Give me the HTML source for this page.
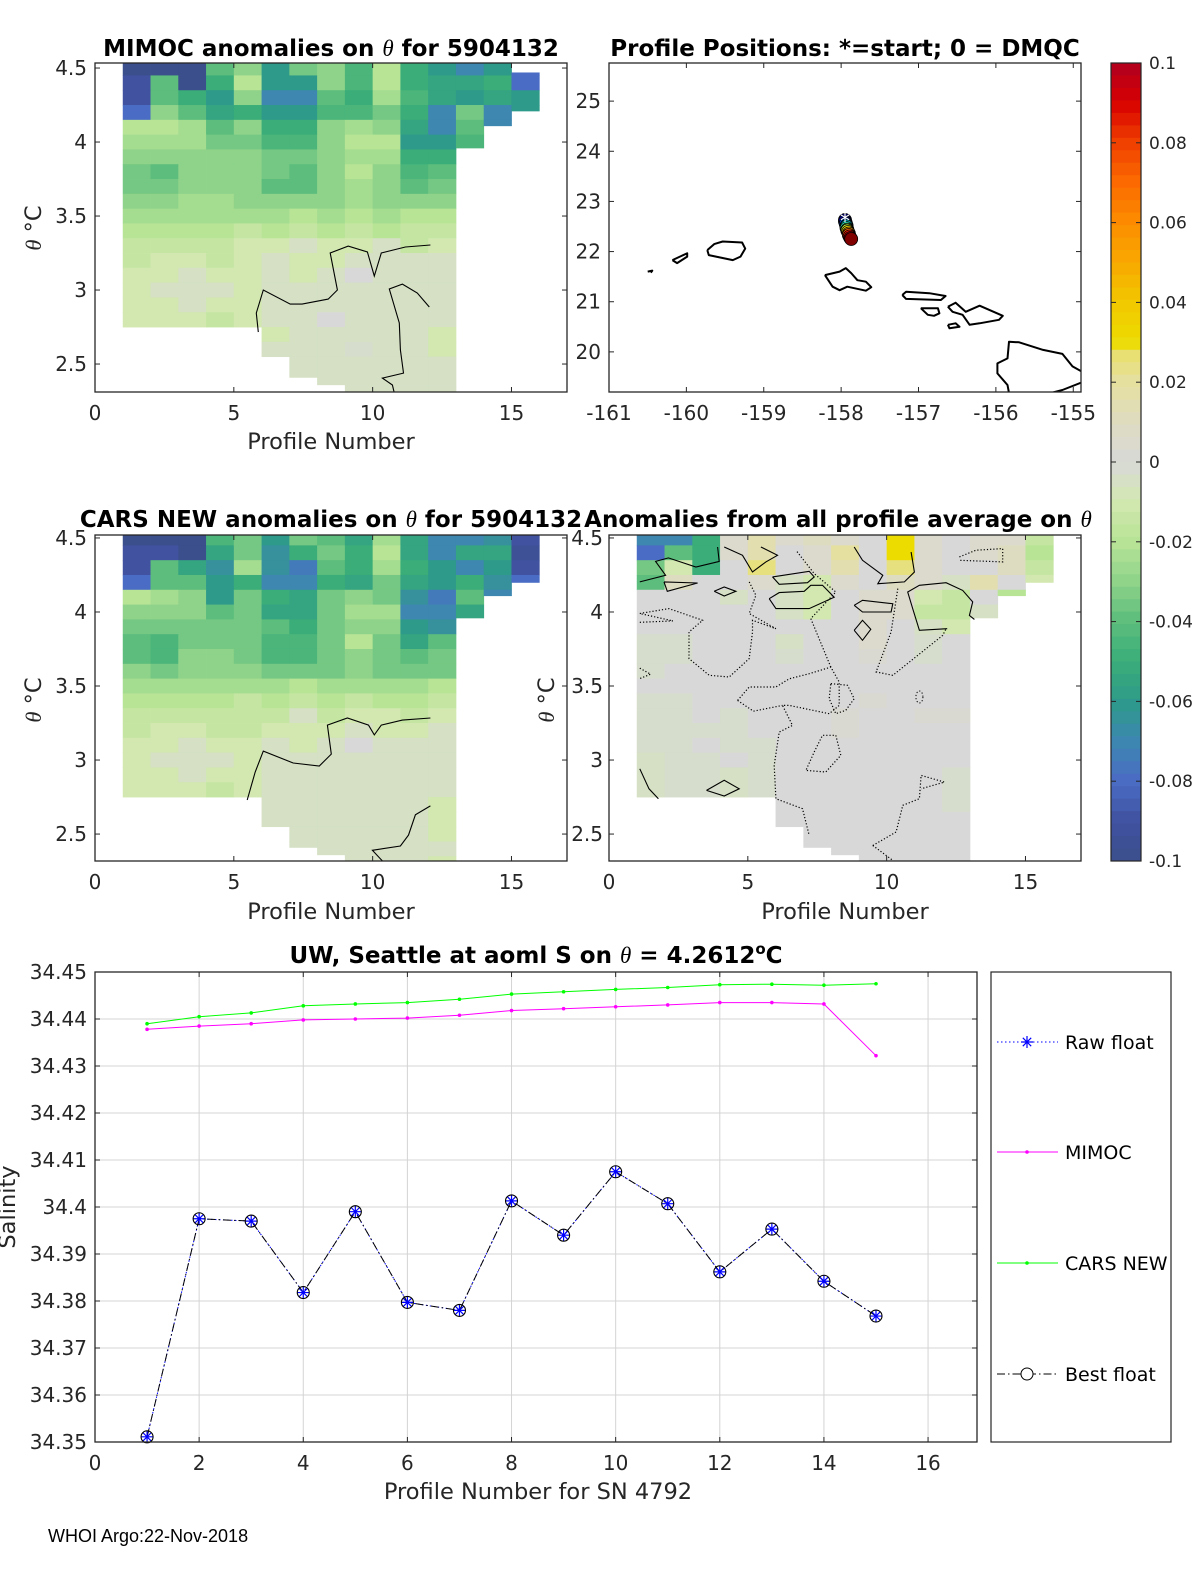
<!DOCTYPE html>
<html><head><meta charset="utf-8">
<style>
html,body{margin:0;padding:0;background:#fff;width:1200px;height:1575px;overflow:hidden;}
svg{display:block;font-family:"DejaVu Sans","Liberation Sans",sans-serif;}
.tk{font-size:20px;fill:#262626;}
.lab{font-size:22.5px;fill:#262626;}
.ttl{font-size:23px;font-weight:bold;fill:#000;}
</style></head>
<body>
<svg id="fig" xmlns="http://www.w3.org/2000/svg" width="1200" height="1575" viewBox="0 0 1200 1575">
<rect x="0" y="0" width="1200" height="1575" fill="#fff"/>
<text class="ttl" x="331" y="56" text-anchor="middle">MIMOC anomalies on <tspan font-style="italic" font-family="Liberation Serif" font-weight="normal">θ</tspan>  for 5904132</text>
<text class="ttl" x="845" y="56" text-anchor="middle">Profile Positions: *=start; 0 = DMQC</text>
<text class="ttl" x="331" y="527" text-anchor="middle">CARS NEW anomalies on <tspan font-style="italic" font-family="Liberation Serif" font-weight="normal">θ</tspan> for 5904132</text>
<text class="ttl" x="838" y="527" text-anchor="middle">Anomalies from all profile average on <tspan font-style="italic" font-family="Liberation Serif" font-weight="normal">θ</tspan></text>
<text class="ttl" x="536" y="963" text-anchor="middle">UW, Seattle at aoml S on <tspan font-style="italic" font-family="Liberation Serif" font-weight="normal">θ</tspan> = 4.2612<tspan baseline-shift="super" font-size="15">o</tspan>C</text>
<text class="lab" x="331" y="449" text-anchor="middle">Profile Number</text>
<text class="lab" x="331" y="919" text-anchor="middle">Profile Number</text>
<text class="lab" x="845" y="919" text-anchor="middle">Profile Number</text>
<text class="lab" x="538" y="1499" text-anchor="middle">Profile Number for SN 4792</text>
<text class="lab" transform="translate(41,228) rotate(-90)" text-anchor="middle"><tspan font-style="italic" font-family="Liberation Serif">θ</tspan> °C</text>
<text class="lab" transform="translate(41,700) rotate(-90)" text-anchor="middle"><tspan font-style="italic" font-family="Liberation Serif">θ</tspan> °C</text>
<text class="lab" transform="translate(554,700) rotate(-90)" text-anchor="middle"><tspan font-style="italic" font-family="Liberation Serif">θ</tspan> °C</text>
<text class="lab" transform="translate(15,1207) rotate(-90)" text-anchor="middle">Salinity</text>
<text x="48" y="1542" font-size="18" fill="#000" font-family="Liberation Sans, sans-serif">WHOI Argo:22-Nov-2018</text>
</svg>
<script>
// ---------- DATA ----------
const profileCols = [1,2,3,4,5,6,7,8,9,10,11,12,13,14,15];
const rowTops = [4.55,4.45,4.35,4.25,4.15,4.05,3.95,3.85,3.75,3.65,3.55,3.45,3.35,3.25,3.15,3.05,2.95,2.85,2.75,2.65,2.55,2.45,2.35];
const colTopTheta = [4.6,4.6,4.6,4.6,4.6,4.6,4.6,4.6,4.6,4.6,4.6,4.6,4.6,4.6,4.47];
const colBottomTheta = [2.75,2.75,2.75,2.75,2.75,2.55,2.41,2.36,2.2,2.2,2.2,2.2,3.96,4.11,4.21];
const colTopThetaCars = [4.6,4.6,4.6,4.6,4.6,4.6,4.6,4.6,4.6,4.6,4.6,4.6,4.6,4.6,4.6];
const colBottomThetaCars = [2.75,2.75,2.75,2.75,2.75,2.55,2.41,2.36,2.2,2.2,2.2,2.2,3.96,4.11,4.2];
// anomalies in hundredths
const mimocVals = [
[-10,-10,-10,-4,-3,-6,-3.5,-3,-4.5,-2,-5,-6,-7,-6,-8],
[-9,-4,-10,-5,-2,-6,-6,-3,-4.5,-2,-5,-5.5,-5.5,-5,-8],
[-9,-4,-5,-6,-3,-7,-7,-4,-5,-2.5,-4.5,-5.5,-6,-5.5,-6],
[-8,-3,-4,-5.5,-5,-6,-6,-4.5,-4.5,-3.5,-5,-7,-3.5,-7,-6],
[-2,-2,-2.5,-4,-3,-5,-5,-3,-2.5,-3,-5.5,-7,-4,-7,null],
[-2.5,-2.5,-2.5,-3.5,-3.5,-4.5,-4.5,-3,-2,-2,-6,-6,-4.5,null,null],
[-3,-3,-3,-3,-3,-3.5,-3.5,-3,-2.5,-2.5,-5,-5,-3.5,null,null],
[-3.5,-4,-3,-3,-3,-3.5,-4,-3,-2,-3,-4.5,-4,null,null,null],
[-3.5,-3.5,-3,-3,-3,-4,-4,-3,-2.5,-3,-4,-3.5,null,null,null],
[-3,-3,-2.5,-2.5,-3,-3,-3,-3,-2.5,-3,-3,-3,null,null,null],
[-2.5,-2.5,-2.5,-2.5,-2.5,-2.5,-2,-2.5,-2,-2.5,-2,-2,null,null,null],
[-2,-2,-2,-2,-1.5,-2,-1.5,-2,-1.5,-2,-1.5,-1.5,null,null,null],
[-1.5,-1.5,-1.5,-1.5,-1,-1,-0.5,-1,-1,-0.5,-1.5,-1,null,null,null],
[-1.5,-1,-1,-1.5,-1,-0.5,-1,-1,-0.5,-0.5,-0.5,-0.5,null,null,null],
[-1,-1,-0.5,-1,-1,-0.5,-1,-0.5,0,-0.5,-0.5,-0.5,null,null,null],
[-1,-0.5,-0.5,-0.5,-1,-0.5,-0.5,-0.5,-0.5,-0.5,-0.5,-0.5,null,null,null],
[-1,-1,-0.5,-1,-1,-0.5,-0.5,-0.5,-0.5,-0.5,-0.5,-0.5,null,null,null],
[-1,-1,-1,-1.5,-1,-0.5,-0.5,0,-0.5,-0.5,-0.5,-0.5,null,null,null],
[null,null,null,null,null,-1,-0.5,-0.5,-0.5,-0.5,-0.5,-1,null,null,null],
[null,null,null,null,null,-0.5,-0.5,-0.5,-0.3,-0.5,-0.5,-1,null,null,null],
[null,null,null,null,null,null,-0.5,-0.5,-0.5,-0.5,-0.5,-0.5,null,null,null],
[null,null,null,null,null,null,-0.5,-0.5,-0.5,-0.5,-0.5,-0.5,null,null,null],
[null,null,null,null,null,null,null,null,-0.5,-0.5,-0.5,-0.5,null,null,null]];
const carsVals = [
[-10,-10,-10,-4.5,-3.5,-6,-3.5,-4,-5.5,-2.5,-5.5,-7,-7,-6.5,-9],
[-9,-9,-10,-5.5,-3.5,-6.5,-5,-3.5,-5,-2,-5.5,-7,-5.5,-5.5,-9.5],
[-9,-4,-5.5,-6.5,-2.5,-6.5,-7.5,-4,-5,-2.5,-5,-6,-7,-6,-9],
[-8,-4,-4,-6,-5,-7,-7,-5,-5.5,-3.5,-5.5,-6,-5,-6.5,-8],
[-2,-2.5,-3,-6,-3.5,-5,-5.5,-3.5,-3,-3.5,-6.5,-7.5,-4,-7,null],
[-3,-3,-3,-4,-3.5,-5.5,-5.5,-3.5,-2.5,-2.5,-7,-7,-5.5,null,null],
[-3.5,-3.5,-3.5,-3.5,-3.5,-4,-5,-3.5,-3,-3,-6,-6.5,-5.5,null,null],
[-4,-4.5,-3.5,-3.5,-3.5,-4.5,-4.5,-3.5,-2,-3.5,-5.5,-4,null,null,null],
[-4,-4.5,-3,-3,-3.5,-4.5,-4.5,-3.5,-3,-3.5,-4,-3.5,null,null,null],
[-3,-3.5,-3,-3,-3,-3.5,-3.5,-3.5,-3,-3.5,-3.5,-3.5,null,null,null],
[-2.5,-2.5,-2.5,-2.5,-2.5,-2.5,-2,-2.5,-2.5,-2.5,-2.5,-2,null,null,null],
[-2,-2,-2,-2,-1.5,-2,-1.5,-2,-1.5,-2,-2,-1.5,null,null,null],
[-1.5,-1.5,-1.5,-1.5,-1.5,-1.5,-0.5,-1.5,-1,-1,-1.5,-1,null,null,null],
[-1.5,-1,-1,-1.5,-1.5,-1,-1,-1,-0.5,-1,-1,-0.5,null,null,null],
[-1,-1,-0.5,-1,-1,-0.5,-1,-0.5,0,-0.5,-0.5,-0.5,null,null,null],
[-1,-0.5,-0.5,-0.5,-1,-0.5,-0.5,-0.5,-0.5,-0.5,-0.5,-0.5,null,null,null],
[-1,-1,-0.5,-1,-1,-0.5,-0.5,-0.5,-0.5,-0.5,-0.5,-0.5,null,null,null],
[-1,-1,-1,-1.5,-1,-0.5,-0.5,-0.5,-0.5,-0.5,-0.5,-0.5,null,null,null],
[null,null,null,null,null,-0.5,-0.5,-0.5,-0.5,-0.5,-0.5,-1,null,null,null],
[null,null,null,null,null,-0.5,-0.5,-0.5,-0.5,-0.5,-0.5,-1,null,null,null],
[null,null,null,null,null,null,-0.5,-0.5,-0.5,-0.5,-0.5,-1,null,null,null],
[null,null,null,null,null,null,-0.5,-0.5,-0.5,-0.5,-0.5,-0.5,null,null,null],
[null,null,null,null,null,null,null,null,-0.5,-0.5,-0.5,-1,null,null,null]];
const avgVals = [
[-7,-7,-5,0.5,1.5,0.5,1,0.5,0,3,0.5,0,0.5,0.5,-1.5],
[-8,-4,-5,0.5,1.5,0,0.5,2,0,3,0.5,0,0.5,1,-2],
[-3.5,-1,-5,0,2.5,0,0.5,1.5,0,2.5,0.5,0,0,1,-1.5],
[-4,1,0,0,0.5,-0.5,-1,0.5,0,1,0.5,-0.5,1.5,0,-1],
[0,0,0,-0.5,0,-0.5,-1,0,0.5,0.5,-1,-1.5,0,-2,null],
[0,0,0,0,0,-0.5,-1,0,0.5,0.5,-1.5,-1.5,-0.5,null,null],
[0,0,0,0,0,0,0,0,0.5,0,-0.5,-1,-0.5,null,null],
[-0.3,-0.3,0,0,0,-0.5,0,0,0.5,0,-0.3,0,null,null,null],
[-0.3,-0.3,0,0,0,-0.3,0,0,0.3,0,-0.3,0,null,null,null],
[-0.3,0,0,0,0,0,0,0,0,0,0,0,null,null,null],
[0,0,0,0,0,0,0,0,0,0,0,0,null,null,null],
[-0.3,-0.3,0,0,0,0,0,0,0.3,0,0,0,null,null,null],
[-0.3,-0.3,0,-0.3,0,0,0,0.3,0,0,0.3,0.3,null,null,null],
[-0.3,-0.3,-0.3,-0.3,0,0,0,0.3,0,0,0,0,null,null,null],
[-0.3,-0.3,0,-0.3,-0.3,0,0,0,0,0,0,0,null,null,null],
[-0.5,-0.3,-0.3,0,-0.3,0,0,0,0,0,0,0,null,null,null],
[-0.5,-0.3,-0.3,-0.5,-0.3,0,0,0,0,0,0,-0.3,null,null,null],
[-0.5,-0.3,-0.3,-0.5,-0.3,0,0,0,0,0,0,-0.3,null,null,null],
[null,null,null,null,null,0,0,0,0,0,0,-0.3,null,null,null],
[null,null,null,null,null,0,0,0,0,0,0,0,null,null,null],
[null,null,null,null,null,null,0,0,0,0,0,0,null,null,null],
[null,null,null,null,null,null,0,0,0,0,0,0,null,null,null],
[null,null,null,null,null,null,null,null,0,0,0,0,null,null,null]];
// contour lines [x (profile), theta]
const mimocContours = [
 [[5.88,2.716],[5.81,2.845],[6.06,3.0],[7.03,2.905],[7.46,2.905],[8.40,2.939],[8.73,3.0],[8.47,3.25],[9.12,3.297],[9.81,3.257],[10.06,3.095],[10.31,3.25],[11.18,3.291],[12.08,3.304]],
 [[12.04,2.885],[11.61,2.98],[11.07,3.04],[10.60,3.007],[10.96,2.777],[11.0,2.595],[11.11,2.439],[10.35,2.405],[10.71,2.358],[10.78,2.304]]];
const carsContours = [
 [[5.48,2.73],[5.77,2.919],[6.06,3.06],[7.14,2.98],[8.08,2.96],[8.51,3.04],[8.37,3.236],[9.09,3.284],[9.85,3.236],[10.06,3.17],[10.31,3.236],[11.07,3.27],[12.08,3.284]],
 [[12.08,2.69],[11.54,2.63],[11.29,2.493],[11.0,2.419],[9.99,2.39],[10.46,2.297]]];
const avgSolidContours = [
 [[5.89,4.237],[7.21,4.275],[7.39,4.237],[7.15,4.198],[6.13,4.187],[5.89,4.237]],
 [[5.77,4.09],[6.13,4.131],[7.03,4.14],[7.27,4.18],[7.69,4.18],[8.11,4.1],[7.21,4.023],[6.01,4.023],[5.77,4.09]],
 [[8.83,4.045],[9.13,4.079],[10.22,4.056],[10.16,4.0],[9.13,4.0],[8.83,4.045]],
 [[8.83,3.876],[9.13,3.944],[9.43,3.883],[9.13,3.809],[8.83,3.876]],
 [[12.18,3.887],[11.18,3.876],[10.94,4.023],[10.76,4.135],[11.18,4.18],[12.14,4.198],[12.74,4.146],[13.1,4.068],[12.98,3.977],[13.16,3.95]],
 [[1.11,4.203],[2.04,4.248],[1.68,4.342],[2.14,4.365],[3.13,4.304],[3.97,4.342],[3.91,4.439]],
 [[1.98,4.203],[3.19,4.196],[2.1,4.14],[1.98,4.203]],
 [[3.79,4.14],[4.15,4.169],[4.57,4.14],[4.15,4.108],[3.79,4.14]],
 [[3.51,2.795],[4.15,2.863],[4.69,2.806],[4.15,2.757],[3.51,2.795]],
 [[1.11,2.941],[1.44,2.806],[1.78,2.739]],
 [[8.83,4.439],[9.13,4.349],[9.86,4.248],[9.68,4.191],[10.64,4.203],[11.0,4.27],[10.88,4.405]],
 [[4.15,4.439],[4.81,4.383],[5.17,4.27],[5.65,4.338],[6.07,4.383],[5.47,4.439]]];
const avgDottedContours = [
 [[1.11,3.99],[2.16,4.023],[3.37,3.944],[2.88,3.865],[2.88,3.685],[3.61,3.572],[4.33,3.561],[5.05,3.685],[5.17,3.865],[5.17,3.944],[6.01,3.887],[5.05,3.99],[5.29,4.113],[5.05,4.203]],
 [[1.11,3.93],[2.3,3.94],[1.11,3.99]],
 [[4.63,3.403],[5.05,3.493],[6.01,3.493],[6.49,3.549],[7.21,3.583],[7.99,3.628],[8.29,3.527],[8.29,3.369],[7.93,3.313],[6.49,3.369],[6.25,3.369],[6.61,3.234],[6.13,3.189],[5.95,2.964],[6.01,2.739],[6.97,2.671],[7.21,2.491]],
 [[4.63,3.403],[5.2,3.33],[6.25,3.369]],
 [[7.99,3.628],[7.27,3.955],[8.17,4.135],[7.39,4.259],[6.73,4.417]],
 [[10.4,4.158],[10.16,3.865],[9.62,3.595],[10.22,3.572],[12.02,3.842],[12.14,3.887]],
 [[7.99,3.516],[8.59,3.505],[8.83,3.414],[8.53,3.336],[8.17,3.313],[7.93,3.414],[7.99,3.516]],
 [[7.39,3.054],[7.69,3.167],[8.17,3.167],[8.35,3.032],[7.81,2.919],[7.09,2.93],[7.39,3.054]],
 [[9.5,2.423],[10.34,2.514],[10.58,2.694],[11.18,2.739],[11.24,2.896],[12.08,2.851],[11.24,2.806]],
 [[9.5,2.423],[10.22,2.322]],
 [[12.62,4.372],[13.22,4.417],[14.18,4.428],[14.18,4.338],[12.62,4.349]],
 [[1.11,3.62],[1.5,3.58],[1.11,3.55]]];
// map
const islandNames = ['niihau','kauai-west','kauai','oahu','molokai','lanai','maui','kahoolawe','hawaii','hawaii-south'];
const islandLon = [
 [-160.50,-160.44,-160.46],
 [-160.18,-160.07,-159.99,-159.99,-160.12,-160.18],
 [-159.73,-159.64,-159.53,-159.28,-159.24,-159.3,-159.4,-159.71,-159.73],
 [-158.21,-158.02,-157.94,-157.87,-157.79,-157.68,-157.61,-157.68,-157.92,-158.02,-158.11,-158.21],
 [-157.21,-157.16,-156.86,-156.65,-156.71,-157.16,-157.21],
 [-156.97,-156.75,-156.73,-156.8,-156.88,-156.97],
 [-156.62,-156.52,-156.39,-156.21,-155.91,-155.96,-156.21,-156.34,-156.43,-156.56,-156.62],
 [-156.62,-156.52,-156.47,-156.6,-156.62],
 [-155.83,-155.85,-155.98,-155.98,-155.85,-155.83,-155.7,-155.39,-155.14,-155.01,-154.86],
 [-155.29,-155.14,-154.86]];
const islandLat = [
 [21.60,21.62,21.58],
 [21.83,21.91,21.965,21.9,21.77,21.83],
 [22.03,22.15,22.2,22.18,22.06,21.9,21.83,21.93,22.03],
 [21.53,21.6,21.67,21.57,21.43,21.4,21.29,21.22,21.3,21.23,21.3,21.53],
 [21.135,21.2,21.17,21.115,21.035,21.056,21.135],
 [20.87,20.87,20.77,20.72,20.74,20.87],
 [20.9,20.98,20.8,20.92,20.72,20.64,20.57,20.54,20.74,20.8,20.9],
 [20.54,20.57,20.5,20.47,20.54],
 [19.18,19.34,19.57,19.77,19.87,20.2,20.19,20.04,19.96,19.71,19.58],
 [19.18,19.24,19.41]];
const floatLon = [-157.95,-157.95,-157.94,-157.94,-157.93,-157.93,-157.93,-157.92,-157.92,-157.91,-157.9,-157.9,-157.89,-157.88,-157.87];
const floatLat = [22.63,22.60,22.57,22.55,22.52,22.50,22.47,22.44,22.42,22.39,22.36,22.33,22.30,22.27,22.25];
// salinity chart
const profiles = [1,2,3,4,5,6,7,8,9,10,11,12,13,14,15];
const bestFloat = [34.3511,34.3975,34.397,34.3818,34.399,34.3797,34.378,34.4013,34.394,34.4075,34.4007,34.3862,34.3953,34.3842,34.3768];
const rawFloat = [34.3511,34.3975,34.397,34.3818,34.399,34.3797,34.378,34.4013,34.394,34.4075,34.4007,34.3862,34.3953,34.3842,34.3768];
const mimocSal = [34.4378,34.4385,34.439,34.4398,34.44,34.4402,34.4408,34.4418,34.4422,34.4426,34.443,34.4435,34.4435,34.4432,34.4322];
const carsSal = [34.439,34.4405,34.4413,34.4428,34.4432,34.4435,34.4442,34.4453,34.4458,34.4463,34.4467,34.4473,34.4474,34.4472,34.4475];
const salYTicks = [34.35,34.36,34.37,34.38,34.39,34.4,34.41,34.42,34.43,34.44,34.45];
const salYLabels = ['34.35','34.36','34.37','34.38','34.39','34.4','34.41','34.42','34.43','34.44','34.45'];
const salXTicks = [0,2,4,6,8,10,12,14,16];
const thetaTicks = [2.5,3,3.5,4,4.5];
const thetaLabels = ['2.5','3','3.5','4','4.5'];
const profTicks = [0,5,10,15];
const lonTicks = [-161,-160,-159,-158,-157,-156,-155];
const latTicks = [20,21,22,23,24,25];
const cbTicks = [-0.1,-0.08,-0.06,-0.04,-0.02,0,0.02,0.04,0.06,0.08,0.1];
const cbLabels = ['-0.1','-0.08','-0.06','-0.04','-0.02','0','0.02','0.04','0.06','0.08','0.1'];

// ---------- RENDER ----------
const NS='http://www.w3.org/2000/svg';
const svg=document.getElementById('fig');
function mk(tag,attrs,parent){const e=document.createElementNS(NS,tag);for(const k in attrs)e.setAttribute(k,attrs[k]);(parent||svg).appendChild(e);return e;}
const cmStops=[[-0.1,[59,79,140]],[-0.09,[64,82,160]],[-0.08,[74,108,196]],[-0.07,[61,135,176]],[-0.06,[46,154,138]],[-0.05,[58,173,120]],[-0.04,[92,189,124]],[-0.03,[143,211,138]],[-0.02,[184,228,150]],[-0.01,[210,232,176]],[0,[216,216,216]],[0.01,[222,220,192]],[0.02,[230,224,160]],[0.027,[232,224,112]],[0.03,[236,220,0]],[0.04,[242,200,0]],[0.05,[248,168,0]],[0.06,[252,140,0]],[0.07,[252,106,0]],[0.08,[240,64,0]],[0.09,[216,0,0]],[0.1,[176,0,32]]];
function cmap(v){v=Math.max(-0.1,Math.min(0.1,v));for(let i=0;i<cmStops.length-1;i++){const a=cmStops[i],b=cmStops[i+1];if(v<=b[0]){const t=(v-a[0])/(b[0]-a[0]);const c=a[1].map((x,j)=>Math.round(x+(b[1][j]-x)*t));return 'rgb('+c.join(',')+')';}}return 'rgb(176,0,32)';}
function jet(t){const r=Math.max(0,Math.min(1,1.5-Math.abs(4*t-3))),g=Math.max(0,Math.min(1,1.5-Math.abs(4*t-2))),b=Math.max(0,Math.min(1,1.5-Math.abs(4*t-1)));return 'rgb('+[r,g,b].map(x=>Math.round(x*255)).join(',')+')';}

function axes(x0,y0,w,h,xmin,xmax,ymin,ymax){return {x0,y0,w,h,sx:v=>x0+(v-xmin)/(xmax-xmin)*w,sy:v=>y0+h-(v-ymin)/(ymax-ymin)*h,ymin,ymax,xmin,xmax};}
function frame(a,name){const r=mk('rect',{x:a.x0,y:a.y0,width:a.w,height:a.h,fill:'none',stroke:'#262626','stroke-width':1.3});

}
function ticksX(a,vals,labels,name){const g=mk('g',{});


vals.forEach((v,i)=>{const x=a.sx(v);mk('line',{x1:x,x2:x,y1:a.y0+a.h,y2:a.y0+a.h-5,stroke:'#262626'},g);mk('line',{x1:x,x2:x,y1:a.y0,y2:a.y0+5,stroke:'#262626'},g);const t=mk('text',{x:x,y:a.y0+a.h+28,class:'tk','text-anchor':'middle'},g);t.textContent=labels[i];});}
function ticksY(a,vals,labels,name,lx){const g=mk('g',{});


vals.forEach((v,i)=>{const y=a.sy(v);mk('line',{x1:a.x0,x2:a.x0+5,y1:y,y2:y,stroke:'#262626'},g);mk('line',{x1:a.x0+a.w,x2:a.x0+a.w-5,y1:y,y2:y,stroke:'#262626'},g);const t=mk('text',{x:lx,y:y+7,class:'tk','text-anchor':'end'},g);t.textContent=labels[i];});}
function heat(a,vals,topT,botT,name,clipId){
 const cp=mk('clipPath',{id:clipId});mk('rect',{x:a.x0,y:a.y0,width:a.w,height:a.h},cp);
 const g=mk('g',{'clip-path':'url(#'+clipId+')'});
 
 
 rowTops.forEach((rt,r)=>{profileCols.forEach((c,ci)=>{const v=vals[r][ci];if(v===null||v===undefined)return;
  const top=Math.min(rt,topT[ci]),bot=Math.max(rt-0.1,botT[ci]);if(top<=bot)return;
  const x1=a.sx(c),x2=a.sx(c+1),y1=a.sy(top),y2=a.sy(bot);
  const cell=mk('rect',{x:x1,y:y1,width:x2-x1+0.4,height:y2-y1+0.4,fill:cmap(v/100)},g);
  
  });});
 return g;}
function contour(a,g,pts,dotted){const d=pts.map((p,i)=>(i?'L':'M')+a.sx(p[0]).toFixed(1)+' '+a.sy(p[1]).toFixed(1)).join(' ');
 const p=mk('path',{d:d,fill:'none',stroke:'#000','stroke-width':dotted?1.2:1.1,'stroke-dasharray':dotted?'1.2 2':'none'},g);
 
 }

// Panel 1
const A1=axes(95,63,472,329,0,17,2.311,4.534);
const g1=heat(A1,mimocVals,colTopTheta,colBottomTheta,'mimoc-heatmap','c1');
mimocContours.forEach(c=>contour(A1,g1,c,false));
frame(A1,'mimoc-axes');ticksX(A1,profTicks,profTicks.map(String),'mimoc-x-ticks');ticksY(A1,thetaTicks,thetaLabels,'mimoc-y-ticks',87);
// Panel 3
const A3=axes(95,535,472,326,0,17,2.318,4.52);
const g3=heat(A3,carsVals,colTopThetaCars,colBottomThetaCars,'cars-heatmap','c3');
carsContours.forEach(c=>contour(A3,g3,c,false));
frame(A3,'cars-axes');ticksX(A3,profTicks,profTicks.map(String),'cars-x-ticks');ticksY(A3,thetaTicks,thetaLabels,'cars-y-ticks',87);
// Panel 4
const A4=axes(609,535,472,326,0,17,2.318,4.52);
const g4=heat(A4,avgVals,colTopThetaCars,colBottomThetaCars,'average-anomaly-heatmap','c4');
avgSolidContours.forEach(c=>contour(A4,g4,c,false));
avgDottedContours.forEach(c=>contour(A4,g4,c,true));
const el4=mk('ellipse',{cx:A4.sx(11.18),cy:A4.sy(3.426),rx:3.5,ry:6,fill:'none',stroke:'#000','stroke-dasharray':'1.2 2'},g4);


frame(A4,'average-anomaly-axes');ticksX(A4,profTicks,profTicks.map(String),'average-x-ticks');ticksY(A4,thetaTicks,thetaLabels,'average-y-ticks',603);
// Panel 2 map
const A2=axes(609,63,472,329,-161,-154.9,19.2,25.76);
const cp2=mk('clipPath',{id:'c2'});mk('rect',{x:A2.x0,y:A2.y0,width:A2.w,height:A2.h},cp2);
const g2=mk('g',{'clip-path':'url(#c2)'});


islandLon.forEach((lons,k)=>{const d=lons.map((lo,i)=>(i?'L':'M')+A2.sx(lo).toFixed(1)+' '+A2.sy(islandLat[k][i]).toFixed(1)).join(' ');
 const p=mk('path',{d:d,fill:'none',stroke:'#000','stroke-width':2,'stroke-linejoin':'round'},g2);
 
 });
floatLon.forEach((lo,i)=>{const t=i/(floatLon.length-1);const cx=A2.sx(lo),cy=A2.sy(floatLat[i]);
 const c=mk('circle',{cx:cx,cy:cy,r:6.5,fill:i===floatLon.length-1?'#800000':jet(t),stroke:'#000','stroke-width':0.8},g2);
 
 });
{const cx=A2.sx(floatLon[0]),cy=A2.sy(floatLat[0]);const st=mk('text',{x:cx,y:cy+8,'text-anchor':'middle','font-size':20,fill:'#fff'},g2);st.textContent='*';

}
frame(A2,'map-axes');ticksX(A2,lonTicks,lonTicks.map(String),'map-x-ticks');ticksY(A2,latTicks,latTicks.map(String),'map-y-ticks',601);
// Colorbar
{const g=mk('g',{});


const n=64,x=1111,y0=63,h=798;for(let i=0;i<n;i++){const v=0.1-(i+0.5)*0.2/n;mk('rect',{x:x,y:y0+i*h/n,width:30,height:h/n+0.5,fill:cmap(v)},g);}
mk('rect',{x:x,y:y0,width:30,height:h,fill:'none',stroke:'#262626','stroke-width':1.2},g);
cbTicks.forEach((v,i)=>{const y=y0+(0.1-v)/0.2*h;mk('line',{x1:1141,x2:1136,y1:y,y2:y,stroke:'#262626'},g);mk('line',{x1:1111,x2:1116,y1:y,y2:y,stroke:'#262626'},g);const t=mk('text',{x:1149,y:y+6,'font-size':17,fill:'#262626'},g);t.textContent=cbLabels[i];});}
// Salinity chart
const A5=axes(95,972,882,470,0,16.94,34.35,34.45);
{const g=mk('g',{});


salXTicks.forEach(v=>{const x=A5.sx(v);mk('line',{x1:x,x2:x,y1:A5.y0,y2:A5.y0+A5.h,stroke:'#d4d4d4'},g);});
salYTicks.forEach(v=>{const y=A5.sy(v);mk('line',{x1:A5.x0,x2:A5.x0+A5.w,y1:y,y2:y,stroke:'#d4d4d4'},g);});}
function series(vals,color,dash,name){const d=vals.map((v,i)=>(i?'L':'M')+A5.sx(profiles[i]).toFixed(1)+' '+A5.sy(v).toFixed(1)).join(' ');
 const p=mk('path',{d:d,fill:'none',stroke:color,'stroke-width':1,'stroke-dasharray':dash});
 
 }
function star(g,x,y,c){mk('path',{d:`M${x-6} ${y}H${x+6}M${x} ${y-6}V${y+6}M${x-4.2} ${y-4.2}L${x+4.2} ${y+4.2}M${x-4.2} ${y+4.2}L${x+4.2} ${y-4.2}`,stroke:c,'stroke-width':1.2},g);}
series(rawFloat,'#0000ff','1.5 2.5','raw-float-line');
series(mimocSal,'#ff00ff','none','mimoc-line');
series(carsSal,'#00ff00','none','cars-line');
series(bestFloat,'#000','8 3 1.5 3','best-float-line');
{const gm=mk('g',{});
mimocSal.forEach((v,i)=>mk('circle',{cx:A5.sx(profiles[i]),cy:A5.sy(v),r:1.8,fill:'#ff00ff'},gm));
const gc=mk('g',{});
carsSal.forEach((v,i)=>mk('circle',{cx:A5.sx(profiles[i]),cy:A5.sy(v),r:1.8,fill:'#00ff00'},gc));
const gr=mk('g',{});
rawFloat.forEach((v,i)=>star(gr,A5.sx(profiles[i]),A5.sy(v),'#0000ff'));
const gb=mk('g',{});
bestFloat.forEach((v,i)=>mk('circle',{cx:A5.sx(profiles[i]),cy:A5.sy(v),r:6,fill:'none',stroke:'#000','stroke-width':1.1},gb));}
frame(A5,'salinity-axes');ticksX(A5,salXTicks,salXTicks.map(String),'salinity-x-ticks');ticksY(A5,salYTicks,salYLabels,'salinity-y-ticks',87);
// Legend
{const g=mk('g',{});


mk('rect',{x:991,y:972,width:180,height:470,fill:'#fff',stroke:'#262626','stroke-width':1.2},g);
const ent=[['Raw float','#0000ff','1.5 2.5',1042,'star'],['MIMOC','#ff00ff','none',1152,'dot'],['CARS NEW','#00ff00','none',1263,'dot'],['Best float','#000','8 3 1.5 3',1374,'circle']];
ent.forEach(e=>{const ge=mk('g',{},g);
 
 
 mk('line',{x1:997,x2:1058,y1:e[3],y2:e[3],stroke:e[1],'stroke-dasharray':e[2]},ge);
 if(e[4]==='star')star(ge,1027,e[3],'#0000ff');else if(e[4]==='dot')mk('circle',{cx:1027,cy:e[3],r:1.8,fill:e[1]},ge);else mk('circle',{cx:1027,cy:e[3],r:6,fill:'#fff',stroke:'#000'},ge);
 const t=mk('text',{x:1065,y:e[3]+7,'font-size':19,fill:'#000'},ge);t.textContent=e[0];});}
</script>
</body></html>
